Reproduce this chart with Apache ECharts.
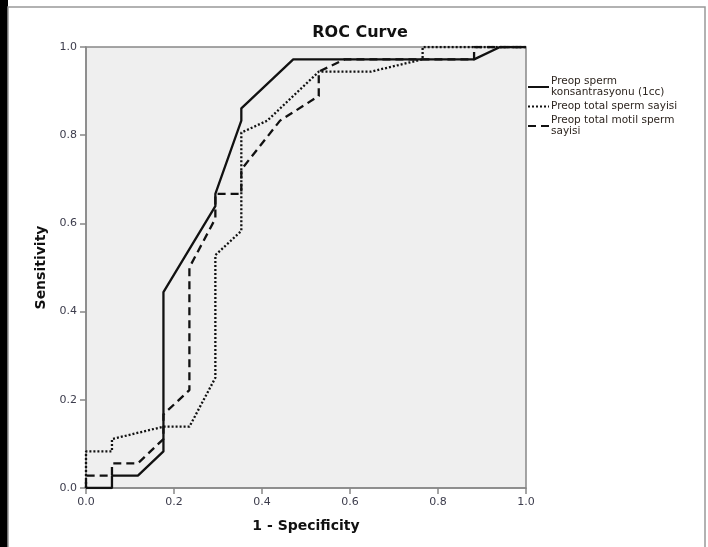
<!DOCTYPE html>
<html>
<head>
<meta charset="utf-8">
<script src="https://cdn.jsdelivr.net/npm/echarts@6/dist/echarts.min.js"></script>
<style>
  html, body { margin: 0; padding: 0; background: #fff; }
  #main { width: 708px; height: 547px; }
</style>
</head>
<body>
<div id="main"></div>
<script>
// x ekseni: 1 - Specificity, y ekseni: Sensitivity
var xTicks = [0, 0.2, 0.4, 0.6, 0.8, 1.0];
var yTicks = [0, 0.2, 0.4, 0.6, 0.8, 1.0];

var seriesNames = [
  "Preop sperm\nkonsantrasyonu (1cc)",
  "Preop total sperm sayisi",
  "Preop total motil sperm\nsayisi"
];

// [1 - specificity, sensitivity]
var konsantrasyon = [
  [0, 0], [0.059, 0], [0.059, 0.028], [0.118, 0.028], [0.176, 0.083],
  [0.176, 0.444], [0.294, 0.639], [0.294, 0.667], [0.353, 0.833],
  [0.353, 0.861], [0.471, 0.972], [0.882, 0.972], [0.941, 1], [1, 1]
];
var totalSperm = [
  [0, 0], [0, 0.083], [0.059, 0.083], [0.059, 0.111], [0.176, 0.139],
  [0.235, 0.139], [0.294, 0.25], [0.294, 0.528], [0.353, 0.583],
  [0.353, 0.806], [0.412, 0.833], [0.529, 0.944], [0.647, 0.944],
  [0.765, 0.972], [0.765, 1], [1, 1]
];
var totalMotil = [
  [0, 0], [0, 0.028], [0.059, 0.028], [0.059, 0.056], [0.118, 0.056],
  [0.176, 0.111], [0.176, 0.167], [0.235, 0.222], [0.235, 0.5],
  [0.294, 0.611], [0.294, 0.667], [0.353, 0.667], [0.353, 0.722],
  [0.441, 0.833], [0.529, 0.889], [0.529, 0.944], [0.588, 0.972],
  [0.882, 0.972], [0.882, 1], [1, 1]
];

var myChart = echarts.init(document.getElementById("main"));

var axisCommon = {
  type: "value",
  min: 0,
  max: 1,
  interval: 0.2,
  nameLocation: "middle",
  nameTextStyle: {
    fontFamily: "DejaVu Sans",
    fontWeight: "bold",
    fontSize: 14,
    color: "#111"
  },
  axisLine: { show: true, lineStyle: { color: "#888", width: 1.5 } },
  axisTick: { show: true, inside: false, length: 6, lineStyle: { color: "#888", width: 1.5 } },
  axisLabel: {
    fontFamily: "DejaVu Sans",
    fontSize: 11,
    color: "#3c3c4c",
    margin: 9,
    formatter: function (v) { return v.toFixed(1); }
  },
  splitLine: { show: false }
};

var lineStyles = [
  { color: "#111", width: 2.3, type: "solid" },
  { color: "#111", width: 2.3, type: [2, 2] },
  { color: "#111", width: 2.3, type: [8, 5] }
];
var datas = [konsantrasyon, totalSperm, totalMotil];

var option = {
  backgroundColor: "#fff",
  animation: false,
  title: {
    text: "ROC Curve",
    left: 355,
    top: 20,
    textAlign: "center",
    textStyle: {
      fontFamily: "DejaVu Sans",
      fontWeight: "bold",
      fontSize: 16,
      color: "#111"
    }
  },
  grid: {
    left: 86,
    right: 182,
    top: 47,
    bottom: 59,
    show: true,
    backgroundColor: "#efefef",
    borderColor: "#888",
    borderWidth: 1.5
  },
  legend: {
    orient: "vertical",
    left: 527,
    top: 76,
    padding: 0,
    itemGap: 3,
    itemWidth: 21,
    itemHeight: 10,
    data: seriesNames,
    itemStyle: { opacity: 0 },
    textStyle: {
      fontFamily: "DejaVu Sans",
      fontSize: 10.5,
      lineHeight: 11,
      color: "#2e2620",
      padding: [0, 0, 0, -3]
    }
  },
  xAxis: Object.assign({}, axisCommon, {
    name: "1 - Specificity",
    nameGap: 31
  }),
  yAxis: Object.assign({}, axisCommon, {
    name: "Sensitivity",
    nameGap: 36
  }),
  graphic: [
    { type: "rect", shape: { x: 0, y: 0, width: 8, height: 547 }, style: { fill: "#000" } },
    { type: "rect", shape: { x: 8, y: 7, width: 697, height: 560 }, style: { fill: "none", stroke: "#999", lineWidth: 1.5 } }
  ],
  series: seriesNames.map(function (name, i) {
    return {
      name: name,
      type: "line",
      data: datas[i],
      symbol: "none",
      lineStyle: lineStyles[i],
      itemStyle: { color: "#111" },
      z: 3 - i
    };
  })
};
myChart.setOption(option);
</script>
</body>
</html>
